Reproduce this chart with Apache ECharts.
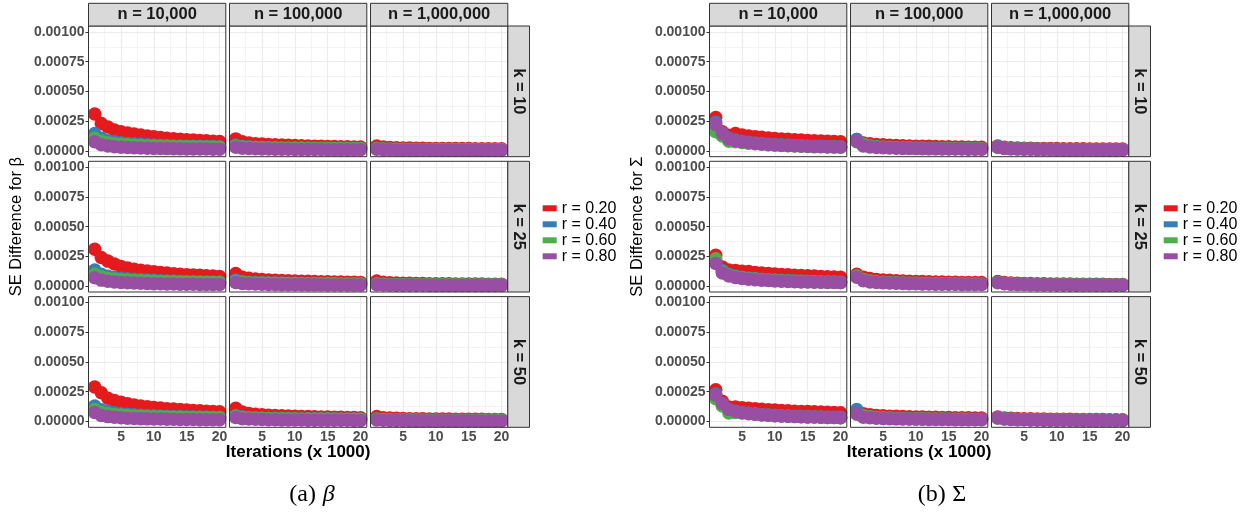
<!DOCTYPE html>
<html><head><meta charset="utf-8">
<script src="https://cdn.jsdelivr.net/npm/echarts@6/dist/echarts.min.js"></script>
<style>html,body{margin:0;padding:0;background:#fff}#c{width:1260px;height:518px}</style>
</head><body><div id="c"></div><script>
// ---------- data (SE difference values in units of 1e-5) ----------
const iterations = [1,2,3,4,5,6,7,8,9,10,11,12,13,14,15,16,17,18,19,20];
const rLabels = ['r = 0.20','r = 0.40','r = 0.60','r = 0.80'];
const nLabels = ['n = 10,000','n = 100,000','n = 1,000,000'];
const kLabels = ['k = 10','k = 25','k = 50'];
const xTicks = [5,10,15,20];
const yTicks = [0,0.00025,0.0005,0.00075,0.001];
const xMinorGrid = [2.5,7.5,12.5,17.5];
const yMinorGrid = [0.000125,0.000375,0.000625,0.000875];
const UNIT = 1e-5;

// beta, k = 10
const betaK10N1e4 = [
  [31,23,20,17.5,16,15,14,13.2,12.4,11.7,11.1,10.6,10.1,9.7,9.3,9,8.7,8.4,8.1,7.8],
  [14.5,10.5,8.5,7.5,6.8,6.2,5.8,5.4,5.1,4.8,4.6,4.4,4.2,4,3.9,3.8,3.7,3.6,3.5,3.4],
  [10.5,8,6.8,6,5.5,5,4.7,4.4,4.2,4,3.8,3.7,3.6,3.5,3.4,3.3,3.2,3.1,3.1,3],
  [7.5,5,4,3.4,3,2.7,2.5,2.3,2.1,2,1.9,1.8,1.7,1.6,1.5,1.5,1.4,1.4,1.3,1.3]];
const betaK10N1e5 = [
  [10,7.5,6.5,6,5.6,5.3,5,4.8,4.6,4.4,4.2,4,3.9,3.7,3.6,3.5,3.4,3.3,3.2,3.1],
  [4.8,3.7,3.3,3,2.8,2.7,2.6,2.5,2.4,2.4,2.3,2.3,2.2,2.2,2.1,2.1,2.1,2,2,2],
  [4,3.2,2.9,2.7,2.5,2.4,2.3,2.2,2.2,2.1,2.1,2,2,2,1.9,1.9,1.9,1.8,1.8,1.8],
  [3,2.2,1.9,1.7,1.5,1.4,1.3,1.2,1.2,1.1,1.1,1,1,1,0.9,0.9,0.9,0.9,0.8,0.8]];
const betaK10N1e6 = [
  [4,3.2,2.8,2.6,2.4,2.3,2.2,2.1,2,2,1.9,1.9,1.8,1.8,1.8,1.7,1.7,1.7,1.6,1.6],
  [2,1.6,1.4,1.3,1.3,1.2,1.2,1.1,1.1,1.1,1.1,1,1,1,1,1,1,1,1,1],
  [1.8,1.5,1.3,1.2,1.2,1.1,1.1,1.1,1,1,1,1,1,1,1,0.9,0.9,0.9,0.9,0.9],
  [1.2,0.9,0.8,0.7,0.7,0.6,0.6,0.6,0.6,0.5,0.5,0.5,0.5,0.5,0.5,0.5,0.5,0.4,0.4,0.4]];
// beta, k = 25
const betaK25N1e4 = [
  [31,24,21,18.5,16.5,15.2,14.2,13.4,12.6,12,11.4,10.9,10.4,10,9.6,9.3,9,8.7,8.4,8.1],
  [13.5,10,8.3,7.3,6.6,6.1,5.7,5.3,5,4.8,4.5,4.3,4.2,4,3.9,3.8,3.7,3.6,3.5,3.4],
  [10,7.8,6.6,5.9,5.4,5,4.7,4.4,4.2,4,3.8,3.7,3.6,3.5,3.4,3.3,3.2,3.1,3.1,3],
  [7,5,4,3.4,3,2.7,2.5,2.3,2.1,2,1.9,1.8,1.7,1.6,1.5,1.5,1.4,1.4,1.3,1.3]];
const betaK25N1e5 = [
  [10.5,7.5,6.5,6,5.6,5.2,4.9,4.7,4.5,4.3,4.1,4,3.9,3.7,3.6,3.5,3.4,3.3,3.2,3.1],
  [5,3.8,3.3,3,2.8,2.7,2.6,2.5,2.4,2.3,2.3,2.2,2.2,2.1,2.1,2.1,2,2,2,1.9],
  [4,3.2,2.8,2.6,2.5,2.4,2.3,2.2,2.1,2.1,2,2,2,1.9,1.9,1.9,1.8,1.8,1.8,1.8],
  [3,2.2,1.9,1.7,1.5,1.4,1.3,1.2,1.2,1.1,1.1,1,1,1,0.9,0.9,0.9,0.9,0.8,0.8]];
const betaK25N1e6 = [
  [4.2,3.2,2.8,2.6,2.4,2.3,2.2,2.1,2,2,1.9,1.9,1.8,1.8,1.7,1.7,1.7,1.6,1.6,1.6],
  [2.1,1.6,1.4,1.3,1.3,1.2,1.2,1.1,1.1,1.1,1,1,1,1,1,1,1,1,1,1],
  [1.8,1.5,1.3,1.2,1.2,1.1,1.1,1.1,1,1,1,1,1,1,0.9,0.9,0.9,0.9,0.9,0.9],
  [1.2,0.9,0.8,0.7,0.7,0.6,0.6,0.6,0.5,0.5,0.5,0.5,0.5,0.5,0.5,0.5,0.4,0.4,0.4,0.4]];
// beta, k = 50
const betaK50N1e4 = [
  [29,24,19.5,17.5,16,14.8,13.8,13,12.3,11.7,11.2,10.7,10.3,9.9,9.5,9.2,8.9,8.6,8.3,8.1],
  [13,9.8,8.2,7.2,6.5,6,5.6,5.2,4.9,4.7,4.5,4.3,4.1,4,3.9,3.8,3.7,3.6,3.5,3.4],
  [10,7.6,6.5,5.8,5.3,4.9,4.6,4.4,4.1,3.9,3.8,3.7,3.5,3.4,3.3,3.2,3.2,3.1,3,3],
  [7.5,5,4,3.4,3,2.7,2.5,2.3,2.1,2,1.9,1.8,1.7,1.6,1.5,1.5,1.4,1.4,1.3,1.3]];
const betaK50N1e5 = [
  [11,7.8,6.6,6,5.5,5.2,4.9,4.7,4.5,4.3,4.1,4,3.8,3.7,3.6,3.5,3.4,3.3,3.2,3.1],
  [5,3.8,3.3,3,2.8,2.7,2.6,2.5,2.4,2.3,2.3,2.2,2.2,2.1,2.1,2,2,2,1.9,1.9],
  [4.2,3.3,2.9,2.7,2.5,2.4,2.3,2.2,2.1,2.1,2,2,2,1.9,1.9,1.9,1.8,1.8,1.8,1.8],
  [3.2,2.3,1.9,1.7,1.5,1.4,1.3,1.2,1.2,1.1,1.1,1,1,1,0.9,0.9,0.9,0.9,0.8,0.8]];
const betaK50N1e6 = [
  [4,3.1,2.8,2.6,2.4,2.3,2.2,2.1,2,2,1.9,1.9,1.8,1.8,1.7,1.7,1.7,1.6,1.6,1.6],
  [2,1.6,1.4,1.3,1.3,1.2,1.2,1.1,1.1,1.1,1,1,1,1,1,1,1,1,1,1],
  [1.8,1.5,1.3,1.2,1.2,1.1,1.1,1,1,1,1,1,1,1,0.9,0.9,0.9,0.9,0.9,0.9],
  [1.2,0.9,0.8,0.7,0.7,0.6,0.6,0.6,0.5,0.5,0.5,0.5,0.5,0.5,0.5,0.5,0.4,0.4,0.4,0.4]];

// Sigma, k = 10
const sigmaK10N1e4 = [
  [28,16,13,14.5,13.2,12.4,11.8,11.3,10.8,10.4,10,9.6,9.3,9,8.7,8.4,8.2,7.9,7.7,7.5],
  [24,15,10.5,9,8,7.2,6.6,6.1,5.7,5.3,5,4.8,4.5,4.3,4.1,3.9,3.8,3.6,3.5,3.4],
  [16,12.5,8,7.5,7,6.4,5.9,5.4,5,4.7,4.4,4.2,4,3.8,3.6,3.4,3.3,3.2,3.1,3],
  [22,14.5,10,8.5,7.5,6.8,6.2,5.7,5.3,5,4.7,4.4,4.2,4,3.8,3.6,3.5,3.3,3.2,3.1]];
const sigmaK10N1e5 = [
  [9.5,6.5,5.8,5.3,5,4.7,4.5,4.3,4.1,3.9,3.8,3.7,3.5,3.4,3.3,3.2,3.1,3,3,2.9],
  [9.5,5,4,3.5,3.2,3,2.8,2.6,2.5,2.4,2.3,2.2,2.1,2,2,1.9,1.9,1.8,1.8,1.7],
  [7.5,5.5,4,3.4,3,2.8,2.6,2.4,2.3,2.2,2.1,2,1.9,1.9,1.8,1.8,1.7,1.7,1.6,1.6],
  [8,4,3.2,2.8,2.5,2.3,2.1,2,1.9,1.8,1.7,1.6,1.6,1.5,1.5,1.4,1.4,1.3,1.3,1.3]];
const sigmaK10N1e6 = [
  [4,3,2.6,2.4,2.2,2.1,2,1.9,1.8,1.8,1.7,1.7,1.6,1.6,1.5,1.5,1.5,1.4,1.4,1.4],
  [3.5,2.4,2,1.8,1.6,1.5,1.4,1.3,1.3,1.2,1.2,1.1,1.1,1.1,1,1,1,1,0.9,0.9],
  [3,2.2,1.8,1.6,1.5,1.4,1.3,1.2,1.2,1.1,1.1,1,1,1,1,0.9,0.9,0.9,0.9,0.9],
  [3,2,1.6,1.4,1.3,1.2,1.1,1,1,0.9,0.9,0.9,0.8,0.8,0.8,0.8,0.7,0.7,0.7,0.7]];
// Sigma, k = 25
const sigmaK25N1e4 = [
  [26,16,13.5,13,12.5,12.2,11.5,11,10.6,10.2,9.8,9.5,9.2,8.9,8.6,8.4,8.1,7.9,7.6,7.4],
  [21,13,10,8.5,7.5,6.8,6.3,5.8,5.4,5.1,4.8,4.6,4.4,4.2,4,3.8,3.7,3.6,3.5,3.4],
  [23,12,9,7.8,7,6.4,5.9,5.4,5.1,4.8,4.5,4.3,4.1,3.9,3.7,3.6,3.4,3.3,3.2,3.1],
  [19,11,8.5,7.2,6.4,5.8,5.3,4.9,4.6,4.3,4.1,3.9,3.7,3.5,3.4,3.3,3.2,3.1,3,2.9]];
const sigmaK25N1e5 = [
  [10,7.5,6.3,5.6,5.2,4.8,4.5,4.3,4.1,3.9,3.8,3.6,3.5,3.4,3.3,3.2,3.1,3,3,2.9],
  [8,5,4,3.5,3.1,2.9,2.7,2.5,2.4,2.3,2.2,2.1,2,2,1.9,1.9,1.8,1.8,1.7,1.7],
  [8.5,5.5,4.2,3.6,3.2,2.9,2.7,2.5,2.4,2.3,2.2,2.1,2,1.9,1.9,1.8,1.8,1.7,1.7,1.6],
  [7.5,4.5,3.5,3,2.7,2.5,2.3,2.1,2,1.9,1.8,1.7,1.6,1.6,1.5,1.5,1.4,1.4,1.3,1.3]];
const sigmaK25N1e6 = [
  [3.8,2.9,2.6,2.4,2.2,2.1,2,1.9,1.8,1.8,1.7,1.7,1.6,1.6,1.5,1.5,1.5,1.4,1.4,1.4],
  [3.2,2.3,1.9,1.7,1.6,1.5,1.4,1.3,1.3,1.2,1.2,1.1,1.1,1.1,1,1,1,1,0.9,0.9],
  [3,2.2,1.8,1.6,1.5,1.4,1.3,1.2,1.2,1.1,1.1,1,1,1,1,0.9,0.9,0.9,0.9,0.9],
  [2.8,1.9,1.6,1.4,1.3,1.2,1.1,1,1,0.9,0.9,0.9,0.8,0.8,0.8,0.8,0.7,0.7,0.7,0.7]];
// Sigma, k = 50
const sigmaK50N1e4 = [
  [26.5,17,12,12,11.5,11,10.6,10.2,9.8,9.5,9.2,8.9,8.6,8.4,8.2,8,7.8,7.6,7.4,7.2],
  [23,14,10,8.5,7.5,6.8,6.3,5.8,5.4,5.1,4.8,4.6,4.4,4.2,4,3.8,3.7,3.6,3.5,3.4],
  [19,13,7,7.5,7,6.4,5.9,5.4,5.1,4.8,4.5,4.3,4.1,3.9,3.7,3.6,3.4,3.3,3.2,3.1],
  [22,15,10,8.5,7.3,6.6,6,5.5,5.1,4.8,4.5,4.3,4.1,3.9,3.7,3.6,3.4,3.3,3.2,3.1]];
const sigmaK50N1e5 = [
  [8,6.5,5.5,5,4.7,4.4,4.2,4,3.8,3.7,3.6,3.5,3.4,3.3,3.2,3.1,3,3,2.9,2.9],
  [10,4.5,3.6,3.2,2.9,2.7,2.5,2.4,2.3,2.2,2.1,2,2,1.9,1.9,1.8,1.8,1.7,1.7,1.7],
  [6,4.8,3.8,3.3,3,2.8,2.6,2.4,2.3,2.2,2.1,2,1.9,1.9,1.8,1.8,1.7,1.7,1.6,1.6],
  [6.5,3.5,3,2.7,2.5,2.3,2.1,2,1.9,1.8,1.7,1.6,1.6,1.5,1.5,1.4,1.4,1.3,1.3,1.3]];
const sigmaK50N1e6 = [
  [3.6,2.9,2.6,2.4,2.2,2.1,2,1.9,1.8,1.8,1.7,1.7,1.6,1.6,1.5,1.5,1.5,1.4,1.4,1.4],
  [3.2,2.3,1.9,1.7,1.6,1.5,1.4,1.3,1.3,1.2,1.2,1.1,1.1,1.1,1,1,1,1,0.9,0.9],
  [2.9,2.2,1.8,1.6,1.5,1.4,1.3,1.2,1.2,1.1,1.1,1,1,1,1,0.9,0.9,0.9,0.9,0.9],
  [2.8,1.9,1.6,1.4,1.3,1.2,1.1,1,1,0.9,0.9,0.9,0.8,0.8,0.8,0.8,0.7,0.7,0.7,0.7]];

const betaPanels = [[betaK10N1e4,betaK10N1e5,betaK10N1e6],[betaK25N1e4,betaK25N1e5,betaK25N1e6],[betaK50N1e4,betaK50N1e5,betaK50N1e6]];
const sigmaPanels = [[sigmaK10N1e4,sigmaK10N1e5,sigmaK10N1e6],[sigmaK25N1e4,sigmaK25N1e5,sigmaK25N1e6],[sigmaK50N1e4,sigmaK50N1e5,sigmaK50N1e6]];

// ---------- layout / style ----------
const FONT = 'Liberation Sans, Arial, Helvetica, sans-serif';
const SERIF = 'Liberation Serif, DejaVu Serif, serif';
const colors = ['#E41A1C','#377EB8','#4DAF4A','#984EA3'];
const charts = [
  {panels: betaPanels, off: 0, ytitle: 'SE Difference for β', cap: '{r|(a)}  {i|β}', capX: 312},
  {panels: sigmaPanels, off: 621, ytitle: 'SE Difference for Σ', cap: '{r|(b)}  {r|Σ}', capX: 942}
];
const PL = 88.5, PW = 137.3, GX = 3.7, RT = 26, PH = 130.7, GY = 4.6;
const ST = 3.3, SH = 22.7, RSW = 21.7;

const grid = [], xAxis = [], yAxis = [], series = [], graphic = [], legend = [];
let gi = 0;
charts.forEach(ch => {
  for (let r = 0; r < 3; r++) {
    for (let c = 0; c < 3; c++) {
      const left = ch.off + PL + c * (PW + GX);
      const top = RT + r * (PH + GY);
      grid.push({left, top, width: PW, height: PH, show: true, backgroundColor: '#fff', borderWidth: 0, outerBoundsMode: 'none', containLabel: false});
      xAxis.push({type: 'value', gridIndex: gi, min: 0.05, max: 20.95,
        axisLine: {show: false}, splitLine: {show: false},
        axisTick: {show: r === 2, length: 3, lineStyle: {color: '#333', width: 1}, customValues: xTicks},
        axisLabel: {show: r === 2, customValues: xTicks, fontSize: 14, fontWeight: 'bold', color: '#4d4d4d', fontFamily: FONT, margin: 3}});
      yAxis.push({type: 'value', gridIndex: gi, min: -0.00005, max: 0.00105,
        axisLine: {show: false}, splitLine: {show: false},
        axisTick: {show: c === 0, length: 3, lineStyle: {color: '#333', width: 1}, customValues: yTicks},
        axisLabel: {show: c === 0, customValues: yTicks, formatter: v => v.toFixed(5), fontSize: 14, fontWeight: 'bold', color: '#4d4d4d', fontFamily: FONT, margin: 4}});
      const ml = [];
      xMinorGrid.forEach(v => ml.push({xAxis: v, lineStyle: {width: 0.6}}));
      yMinorGrid.forEach(v => ml.push({yAxis: v, lineStyle: {width: 0.6}}));
      xTicks.forEach(v => ml.push({xAxis: v, lineStyle: {width: 1.1}}));
      yTicks.forEach(v => ml.push({yAxis: v, lineStyle: {width: 1.1}}));
      series.push({type: 'line', xAxisIndex: gi, yAxisIndex: gi, data: [], z: 1, silent: true,
        markLine: {silent: true, z: 1, precision: 10, symbol: ['none','none'], label: {show: false}, animation: false,
          emphasis: {disabled: true}, lineStyle: {color: '#ebebeb', type: 'solid'}, data: ml}});
      const vals = ch.panels[r][c];
      vals.forEach((arr, j) => {
        series.push({type: 'scatter', name: rLabels[j], xAxisIndex: gi, yAxisIndex: gi, z: 10, silent: true,
          symbolSize: 13.5, itemStyle: {color: colors[j], opacity: 1}, emphasis: {disabled: true},
          data: iterations.map((it, i) => [it, arr[i] * UNIT])});
      });
      graphic.push({type: 'rect', z: 100, silent: true, shape: {x: left, y: top, width: PW, height: PH},
        style: {fill: 'none', stroke: '#333', lineWidth: 1}});
      gi++;
    }
  }
  for (let c = 0; c < 3; c++) {
    const left = ch.off + PL + c * (PW + GX);
    graphic.push({type: 'rect', z: 100, silent: true, shape: {x: left, y: ST, width: PW, height: SH},
      style: {fill: '#d9d9d9', stroke: '#333', lineWidth: 1}});
    graphic.push({type: 'text', z: 101, silent: true, x: left + PW / 2, y: ST + SH / 2,
      style: {text: nLabels[c], align: 'center', verticalAlign: 'middle', font: 'bold 16.5px ' + FONT, fill: '#1a1a1a'}});
  }
  const sx = ch.off + PL + 3 * PW + 2 * GX;
  for (let r = 0; r < 3; r++) {
    const top = RT + r * (PH + GY);
    graphic.push({type: 'rect', z: 100, silent: true, shape: {x: sx, y: top, width: RSW, height: PH},
      style: {fill: '#d9d9d9', stroke: '#333', lineWidth: 1}});
    graphic.push({type: 'text', z: 101, silent: true, x: sx + RSW / 2, y: top + PH / 2, rotation: -Math.PI / 2,
      style: {text: kLabels[r], align: 'center', verticalAlign: 'middle', font: 'bold 16.5px ' + FONT, fill: '#1a1a1a'}});
  }
  graphic.push({type: 'text', z: 101, silent: true, x: ch.off + 16, y: RT + (3 * PH + 2 * GY) / 2, rotation: Math.PI / 2,
    style: {text: ch.ytitle, align: 'center', verticalAlign: 'middle', font: '16.5px ' + FONT, fill: '#000'}});
  graphic.push({type: 'text', z: 101, silent: true, x: ch.off + PL + (3 * PW + 2 * GX) / 2, y: 452.5,
    style: {text: 'Iterations (x 1000)', align: 'center', verticalAlign: 'middle', font: 'bold 17px ' + FONT, fill: '#000'}});
  graphic.push({type: 'text', z: 101, silent: true, x: ch.capX, y: 495,
    style: {text: ch.cap, align: 'center', verticalAlign: 'middle', fill: '#000',
      rich: {r: {fontFamily: SERIF, fontSize: 24, fill: '#000'},
             i: {fontFamily: SERIF, fontSize: 24, fontStyle: 'italic', fill: '#000'}}}});
  legend.push({orient: 'vertical', left: ch.off + 542.7, top: 200.3, padding: 0, itemGap: 0,
    icon: 'rect', itemWidth: 14, itemHeight: 6, selectedMode: false, data: rLabels,
    textStyle: {fontSize: 16, lineHeight: 16, height: 16, color: '#000', fontFamily: FONT}});
});

const chart = echarts.init(document.getElementById('c'), null, {renderer: 'canvas'});
chart.setOption({animation: false, backgroundColor: '#fff', grid, xAxis, yAxis, series, graphic, legend, tooltip: {show: false}});
</script></body></html>
